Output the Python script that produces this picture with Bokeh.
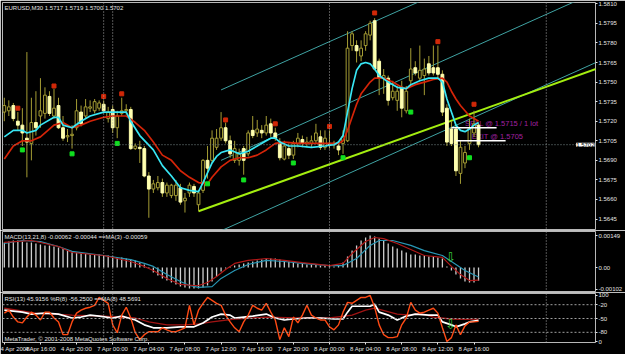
from bokeh.plotting import figure
from bokeh.layouts import column
from bokeh.models import Range1d, FixedTicker, Label, Span, ColumnDataSource, NumeralTickFormatter
from bokeh.core.properties import value
from bokeh.embed import file_html
from bokeh.resources import INLINE

# ---------------- data (EURUSD M30) ----------------
bars = list(range(106))
open_ = [1.5727, 1.5728, 1.5732, 1.5720, 1.5717, 1.5707, 1.5703, 1.5719, 1.5724, 1.5726,
         1.5739, 1.5724, 1.5732, 1.5715, 1.5708, 1.5709, 1.5715, 1.5727, 1.5724, 1.5730,
         1.5728, 1.5730, 1.5733, 1.5722, 1.5729, 1.5715, 1.5726, 1.5728, 1.5729, 1.5699,
         1.5700, 1.5699, 1.5678, 1.5668, 1.5669, 1.5673, 1.5665, 1.5663, 1.5663, 1.5669,
         1.5659, 1.5665, 1.5670, 1.5656, 1.5667, 1.5690, 1.5690, 1.5700, 1.5707, 1.5715,
         1.5705, 1.5690, 1.5690, 1.5699, 1.5695, 1.5713, 1.5711, 1.5713, 1.5711, 1.5718,
         1.5711, 1.5704, 1.5691, 1.5699, 1.5694, 1.5703, 1.5706, 1.5703, 1.5703, 1.5705,
         1.5708, 1.5700, 1.5703, 1.5703, 1.5701, 1.5703, 1.5705, 1.5778, 1.5778, 1.5770,
         1.5778, 1.5786, 1.5797, 1.5766, 1.5753, 1.5753, 1.5738, 1.5736, 1.5746, 1.5728,
         1.5751, 1.5761, 1.5753, 1.5755, 1.5764, 1.5761, 1.5761, 1.5756, 1.5730, 1.5714,
         1.5714, 1.5680, 1.5688, 1.5703, 1.5711, 1.5717]
high = [1.5738, 1.5736, 1.5734, 1.5727, 1.5730, 1.5773, 1.5738, 1.5743, 1.5753, 1.5746,
        1.5743, 1.5745, 1.5738, 1.5724, 1.5714, 1.5717, 1.5737, 1.5732, 1.5737, 1.5736,
        1.5737, 1.5736, 1.5736, 1.5731, 1.5732, 1.5728, 1.5738, 1.5733, 1.5731, 1.5703,
        1.5705, 1.5701, 1.5681, 1.5675, 1.5678, 1.5676, 1.5673, 1.5672, 1.5675, 1.5672,
        1.5665, 1.5673, 1.5672, 1.5667, 1.5691, 1.5701, 1.5713, 1.5714, 1.5727, 1.5719,
        1.5709, 1.5705, 1.5699, 1.5701, 1.5713, 1.5724, 1.5721, 1.5717, 1.5724, 1.5722,
        1.5715, 1.5707, 1.5705, 1.5703, 1.5705, 1.5711, 1.5709, 1.5708, 1.5709, 1.5718,
        1.5713, 1.5713, 1.5713, 1.5705, 1.5704, 1.5713, 1.5789, 1.5789, 1.5782, 1.5782,
        1.5789, 1.5797, 1.5799, 1.5768, 1.5760, 1.5755, 1.5751, 1.5747, 1.5751, 1.5747,
        1.5776, 1.5766, 1.5778, 1.5768, 1.5770, 1.5778, 1.5778, 1.5759, 1.5733, 1.5720,
        1.5717, 1.5705, 1.5701, 1.5722, 1.5728, 1.5719]
low = [1.5720, 1.5724, 1.5720, 1.5713, 1.5701, 1.5677, 1.5690, 1.5709, 1.5715, 1.5722,
       1.5724, 1.5722, 1.5714, 1.5705, 1.5704, 1.5699, 1.5713, 1.5716, 1.5722, 1.5727,
       1.5726, 1.5728, 1.5726, 1.5719, 1.5711, 1.5707, 1.5724, 1.5725, 1.5698, 1.5698,
       1.5688, 1.5677, 1.5646, 1.5665, 1.5667, 1.5662, 1.5662, 1.5661, 1.5659, 1.5656,
       1.5650, 1.5662, 1.5662, 1.5651, 1.5665, 1.5676, 1.5688, 1.5698, 1.5705, 1.5703,
       1.5692, 1.5688, 1.5686, 1.5679, 1.5693, 1.5707, 1.5708, 1.5707, 1.5709, 1.5708,
       1.5705, 1.5690, 1.5690, 1.5691, 1.5691, 1.5700, 1.5700, 1.5700, 1.5700, 1.5703,
       1.5698, 1.5698, 1.5699, 1.5699, 1.5694, 1.5695, 1.5704, 1.5774, 1.5765, 1.5766,
       1.5774, 1.5782, 1.5759, 1.5740, 1.5741, 1.5732, 1.5736, 1.5728, 1.5723, 1.5726,
       1.5747, 1.5755, 1.5751, 1.5740, 1.5755, 1.5755, 1.5753, 1.5724, 1.5701, 1.5701,
       1.5678, 1.5672, 1.5684, 1.5698, 1.5708, 1.5700]
close = [1.5732, 1.5731, 1.5722, 1.5717, 1.5711, 1.5704, 1.5719, 1.5715, 1.5728, 1.5740,
         1.5726, 1.5730, 1.5715, 1.5707, 1.5709, 1.5710, 1.5728, 1.5718, 1.5731, 1.5731,
         1.5735, 1.5734, 1.5728, 1.5727, 1.5715, 1.5724, 1.5728, 1.5729, 1.5699, 1.5701,
         1.5699, 1.5678, 1.5668, 1.5672, 1.5673, 1.5665, 1.5671, 1.5671, 1.5671, 1.5658,
         1.5661, 1.5671, 1.5665, 1.5665, 1.5690, 1.5684, 1.5707, 1.5707, 1.5715, 1.5705,
         1.5695, 1.5699, 1.5695, 1.5690, 1.5711, 1.5709, 1.5714, 1.5711, 1.5717, 1.5711,
         1.5707, 1.5692, 1.5701, 1.5694, 1.5703, 1.5707, 1.5703, 1.5704, 1.5705, 1.5711,
         1.5700, 1.5707, 1.5702, 1.5702, 1.5698, 1.5708, 1.5776, 1.5787, 1.5774, 1.5776,
         1.5787, 1.5795, 1.5760, 1.5753, 1.5755, 1.5736, 1.5743, 1.5743, 1.5730, 1.5743,
         1.5760, 1.5757, 1.5759, 1.5760, 1.5757, 1.5757, 1.5756, 1.5727, 1.5704, 1.5703,
         1.5682, 1.5700, 1.5696, 1.5715, 1.5718, 1.5702]

# fast (cyan) and slow (red) moving averages, read at these bars
ma_fast_x = [0, 2, 4, 5, 7, 8, 11, 12, 13, 15, 17, 19, 22, 25, 27, 28, 30, 33, 35, 37, 39, 41, 43, 44,
             46, 47, 48, 50, 52, 54, 56, 58, 59, 60, 61, 63, 65, 68, 71, 73, 74, 75, 76, 77, 78, 79,
             80, 81, 82, 83, 85, 87, 89, 90, 92, 94, 96, 97, 98, 99, 100, 101, 102, 103, 104, 105]
ma_fast = [1.5708, 1.5713, 1.5713, 1.5711, 1.5713, 1.5717, 1.5723, 1.5723, 1.5717, 1.5715, 1.5720,
           1.5724, 1.5727, 1.5727, 1.5727, 1.5720, 1.5709, 1.5698, 1.5686, 1.5678, 1.5669, 1.5667,
           1.5666, 1.5673, 1.5688, 1.5693, 1.5696, 1.5698, 1.5695, 1.5697, 1.5701, 1.5705, 1.5707,
           1.5707, 1.5704, 1.5701, 1.5701, 1.5700, 1.5701, 1.5702, 1.5704, 1.5709, 1.5727, 1.5745,
           1.5759, 1.5764, 1.5765, 1.5764, 1.5760, 1.5755, 1.5750, 1.5746, 1.5745, 1.5748, 1.5751,
           1.5753, 1.5753, 1.5750, 1.5737, 1.5727, 1.5717, 1.5713, 1.5712, 1.5714, 1.5717, 1.5719]
ma_slow_x = [0, 2, 4, 6, 8, 11, 13, 15, 17, 19, 22, 24, 27, 29, 31, 33, 35, 37, 39, 41, 43, 45, 46,
             48, 50, 52, 54, 56, 58, 60, 62, 65, 68, 71, 74, 75, 76, 77, 78, 79, 81, 82, 84, 86, 88,
             89, 91, 93, 95, 97, 98, 99, 100, 101, 102, 103, 104, 105]
ma_slow = [1.5691, 1.5701, 1.5705, 1.5705, 1.5708, 1.5717, 1.5719, 1.5715, 1.5717, 1.5720, 1.5723,
           1.5724, 1.5724, 1.5719, 1.5713, 1.5704, 1.5694, 1.5690, 1.5682, 1.5677, 1.5673, 1.5672,
           1.5677, 1.5685, 1.5690, 1.5692, 1.5692, 1.5694, 1.5698, 1.5703, 1.5704, 1.5703, 1.5703,
           1.5703, 1.5703, 1.5705, 1.5713, 1.5723, 1.5733, 1.5741, 1.5750, 1.5753, 1.5753, 1.5750,
           1.5746, 1.5745, 1.5748, 1.5750, 1.5752, 1.5753, 1.5750, 1.5743, 1.5737, 1.5732, 1.5728,
           1.5724, 1.5722, 1.5720]

frac_up_x = [3, 11, 22, 26, 49, 60, 72, 82, 96, 104]
frac_up_y = [1.5730, 1.5747, 1.5739, 1.5741, 1.5721, 1.5718, 1.5716, 1.5803, 1.5781, 1.5733]
frac_dn_x = [4, 15, 25, 45, 53, 64, 75, 90, 103]
frac_dn_y = [1.5698, 1.5695, 1.5703, 1.5672, 1.5675, 1.5688, 1.5692, 1.5727, 1.5692]

trend_x = [43, 131]
trend_y = [1.5651, 1.5760]
channel_x = [48, 131]
channel_upper = [1.5744, 1.5872]
channel_mid = [1.5690, 1.5819]
channel_lower = [1.5636, 1.5765]

separators = [22, 24, 72, 120]
bid = 1.5702
trade_start = [99, 100]
trade_end = [109, 111]
trade_price = [1.5715, 1.5705]
trade_text = ["SELL @ 1.5715 / 1 lot", "EXIT @ 1.5705"]
trade_text_x = [102, 103.5]

price_ticks = [1.5645, 1.5660, 1.5675, 1.5690, 1.5705, 1.5720, 1.5735, 1.5750, 1.5765, 1.5780, 1.5795, 1.5810]
time_ticks = [0, 8, 16, 24, 32, 40, 48, 56, 64, 72, 80, 88, 96, 104]
time_labels = ["4 Apr 2008", "4 Apr 16:00", "4 Apr 20:00", "7 Apr 00:00", "7 Apr 04:00", "7 Apr 08:00",
               "7 Apr 12:00", "7 Apr 16:00", "7 Apr 20:00", "8 Apr 00:00", "8 Apr 04:00", "8 Apr 08:00",
               "8 Apr 12:00", "8 Apr 16:00"]

# MACD(13,21,8)
macd_hist = [0.00117, 0.00121, 0.00126, 0.00126, 0.00121, 0.00117, 0.00117, 0.00112, 0.00107, 0.00103,
             0.00103, 0.00098, 0.00093, 0.00089, 0.00079, 0.00075, 0.00070, 0.00070, 0.00065, 0.00061,
             0.00061, 0.00061, 0.00056, 0.00056, 0.00051, 0.00047, 0.00047, 0.00042, 0.00037, 0.00033,
             0.00023, 0.00014, -0.00005, -0.00023, -0.00037, -0.00051, -0.00061, -0.00070, -0.00079, -0.00089,
             -0.00093, -0.00098, -0.00098, -0.00098, -0.00093, -0.00084, -0.00065, -0.00042, -0.00019, -0.00005,
             0.00005, 0.00009, 0.00014, 0.00019, 0.00023, 0.00028, 0.00033, 0.00037, 0.00042, 0.00042,
             0.00042, 0.00037, 0.00033, 0.00028, 0.00023, 0.00019, 0.00019, 0.00014, 0.00014, 0.00014,
             0.00009, 0.00009, 0.00009, 0.00005, 0.00009, 0.00023, 0.00051, 0.00079, 0.00103, 0.00126,
             0.00140, 0.00149, 0.00145, 0.00135, 0.00126, 0.00112, 0.00098, 0.00089, 0.00079, 0.00070,
             0.00061, 0.00061, 0.00056, 0.00056, 0.00051, 0.00051, 0.00047, 0.00042, 0.00005, -0.00014,
             -0.00033, -0.00051, -0.00065, -0.00070, -0.00070, -0.00062]
macd_sig_x = [0, 4, 8, 12, 15, 22, 28, 31, 33, 36, 39, 41, 43, 46, 48, 51, 54, 58, 62, 66, 72, 75, 78,
              81, 83, 86, 90, 93, 97, 100, 102, 105]
macd_sig = [0.00112, 0.00126, 0.00121, 0.00098, 0.00075, 0.00056, 0.00037, 0.00019, 0.00005, -0.00033,
            -0.00065, -0.00084, -0.00093, -0.00089, -0.00051, -0.00014, 0.00014, 0.00033, 0.00028, 0.00019,
            0.00009, 0.00009, 0.00042, 0.00103, 0.00126, 0.00126, 0.00103, 0.00079, 0.00056, 0.00014,
            -0.00014, -0.00044]
macd_ma_x = [0, 6, 12, 15, 22, 28, 31, 33, 36, 39, 42, 43, 45, 47, 49, 51, 54, 58, 62, 66, 72, 75, 77,
             80, 82, 84, 87, 90, 93, 97, 99, 101, 103, 105]
macd_ma = [0.00117, 0.00126, 0.00098, 0.00070, 0.00056, 0.00028, 0.00005, -0.00014, -0.00051, -0.00079,
           -0.00084, -0.00084, -0.00070, -0.00042, -0.00009, 0.00019, 0.00033, 0.00042, 0.00033, 0.00023,
           0.00009, 0.00019, 0.00065, 0.00121, 0.00140, 0.00135, 0.00112, 0.00084, 0.00056, 0.00047,
           0.00005, -0.00033, -0.00061, -0.00059]
macd_ticks = [-0.00102, 0.0, 0.00149]

# RSI(13), %R(8), MA(8)
wpr = [-38.3, -31.9, -46.8, -57.4, -59.6, -46.8, -36.2, -42.6, -53.2, -36.2,
       -36.2, -48.9, -57.4, -85.1, -85.1, -57.4, -38.3, -31.9, -27.7, -25.5,
       -21.3, -4.3, -10.6, -17.0, -63.8, -80.9, -42.6, -25.5, -48.9, -80.9,
       -95.7, -85.1, -78.7, -78.7, -78.7, -70.2, -74.5, -78.7, -78.7, -74.5,
       -70.2, -21.3, -63.8, -31.9, -17.0, -4.3, -10.6, -17.0, -21.3, -42.6,
       -57.4, -70.2, -78.7, -57.4, -42.6, -21.3, -27.7, -31.9, -17.0, -36.2,
       -53.2, -95.7, -70.2, -89.4, -46.8, -59.6, -42.6, -21.3, -42.6, -48.9,
       -53.2, -53.2, -68.1, -74.5, -63.8, -36.2, -14.9, -17.0, -10.6, -4.3,
       -4.3, 0.0, -25.5, -63.8, -85.1, -91.5, -91.5, -89.4, -63.8, -48.9,
       -14.9, -31.9, -38.3, -36.2, -31.9, -27.7, -38.3, -70.2, -100.0, -91.5,
       -63.8, -85.1, -66.0, -57.4, -57.4, -56.25]
rsi_x = [0, 4, 6, 9, 12, 15, 17, 19, 21, 24, 26, 29, 31, 33, 36, 39, 42, 44, 46, 48, 50, 51, 53, 55,
         58, 60, 62, 64, 67, 70, 73, 75, 76, 77, 79, 81, 82, 83, 85, 87, 89, 91, 94, 96, 97, 99,
         100, 102, 103, 105]
rsi = [68.1, 63.8, 59.6, 61.7, 59.6, 51.1, 53.2, 57.4, 55.3, 51.1, 55.3, 46.8, 36.2, 29.8, 29.8, 31.9,
       31.9, 40.4, 53.2, 59.6, 57.4, 51.1, 53.2, 55.3, 59.6, 51.1, 46.8, 48.9, 51.1, 51.1, 48.9, 48.9,
       63.8, 76.6, 76.6, 76.6, 80.9, 63.8, 57.4, 46.8, 55.3, 59.6, 57.4, 57.4, 42.6, 36.2, 31.9, 38.3,
       42.6, 45.9]
rsi_ma_x = [0, 7, 15, 22, 29, 32, 36, 40, 43, 46, 51, 55, 58, 65, 72, 77, 80, 82, 87, 90, 92, 95, 99,
            102, 105]
rsi_ma = [72.3, 61.7, 57.4, 55.3, 51.1, 42.6, 36.2, 36.2, 38.3, 42.6, 48.9, 51.1, 53.2, 51.1, 51.1,
          57.4, 68.1, 72.3, 59.6, 57.4, 61.7, 53.2, 48.9, 47.9, 48.6]
rsi_levels = [20, 50, 80]
rsi_ticks = [0, 20, 50, 80, 100]
rsi_tick_labels = ["0", "-80", "-50", "-20", "100"]
arrow_x = [98.8]
arrow_macd = [0.00047]
arrow_rsi = [36.0]

# ---------------- styling ----------------
FONT = "Liberation Sans"
TXT = "#E4E4E4"
FRAME = "#B8B8B8"
WICK = "#A49C34"
BRIGHT = "#FFFFB0"
RB = 27
XR = Range1d(-0.4, 130.9)


def panel(height, yr, top, bottom, xaxis=False):
    p = figure(width=625, height=height, x_range=XR, y_range=yr, output_backend="svg",
               toolbar_location=None, background_fill_color="black", border_fill_color="black",
               min_border_left=2, min_border_right=RB, min_border_top=top, min_border_bottom=bottom,
               y_axis_location="right", x_axis_location="below" if xaxis else None,
               outline_line_color=FRAME, outline_line_width=1)
    p.grid.visible = False
    ax = p.yaxis[0]
    ax.axis_line_color = None
    ax.major_tick_line_color = TXT
    ax.major_tick_out = 2
    ax.major_tick_in = 0
    ax.minor_tick_line_color = None
    ax.major_label_text_font = FONT
    ax.major_label_text_font_size = "6px"
    ax.major_label_text_color = TXT
    ax.major_label_standoff = 1
    for s in separators:
        p.add_layout(Span(location=s, dimension="height", line_color="#A8A8A8",
                          line_dash="1 2", line_width=1))
    return p


# ---------------- main price panel ----------------
p1 = panel(230, Range1d(1.5637, 1.5811), 2, 1)
p1.yaxis[0].ticker = FixedTicker(ticks=price_ticks)
p1.yaxis[0].formatter = NumeralTickFormatter(format="0.0000")
p1.add_layout(Span(location=bid, dimension="width", line_color="#7A8A8A", line_dash="1 2", line_width=1))

# regression channel and trend line
for ys in (channel_upper, channel_mid, channel_lower):
    p1.line(channel_x, ys, line_color="#3FA3A3", line_width=1)
p1.line(trend_x, trend_y, line_color="#A4EE10", line_width=2)

# trade text (drawn below candles)
p1.text(x=trade_text_x, y=trade_price, text=trade_text, text_color="#A020A0",
        text_font=value(FONT), text_font_size="7.5px", text_baseline="bottom", text_align="left")

bull = [c >= o for o, c in zip(open_, close)]
src = ColumnDataSource(dict(
    x=bars, h=high, l=low,
    top=[max(o, c) for o, c in zip(open_, close)],
    bottom=[min(o, c) for o, c in zip(open_, close)],
    fill=["black" if b else BRIGHT for b in bull],
    line=[WICK if b else BRIGHT for b in bull],
))
p1.segment(x0="x", y0="h", x1="x", y1="l", source=src, line_color=WICK, line_width=1)
p1.vbar(x="x", width=0.62, top="top", bottom="bottom", source=src,
        fill_color="fill", line_color="line", line_width=1)

p1.line(ma_slow_x, ma_slow, line_color="#D42408", line_width=1.7)
p1.line(ma_fast_x, ma_fast, line_color="#38E6F4", line_width=1.7)

p1.scatter(frac_up_x, frac_up_y, marker="square", size=4, color="#D02808")
p1.scatter(frac_dn_x, frac_dn_y, marker="square", size=4, color="#10E020")

p1.segment(x0=trade_start, y0=trade_price, x1=trade_end, y1=trade_price,
           line_color="white", line_width=1.5)

p1.add_layout(Label(x=XR.start, y=1.5811, x_offset=2, y_offset=-2, text_baseline="top",
                    text="EURUSD,M30  1.5717 1.5719 1.5700 1.5702", text_color=TXT,
                    text_font=FONT, text_font_size="6px"))
# current bid marker at the price scale edge
p1.add_layout(Label(x=XR.end, y=bid, x_offset=-1, text_align="right", text_baseline="middle",
                    text="1.5702", text_color="black", background_fill_color="white",
                    text_font=FONT, text_font_size="6px"))

# ---------------- MACD panel ----------------
p2 = panel(62, Range1d(-0.00112, 0.00168), 1, 1)
p2.yaxis[0].ticker = FixedTicker(ticks=macd_ticks)
p2.yaxis[0].major_label_overrides = {-0.00102: "-0.00102", 0.0: "0.00", 0.00149: "0.00149"}
p2.segment(x0=bars, y0=[0.0] * len(bars), x1=bars, y1=macd_hist, line_color="#CFCFCF", line_width=1.3)
p2.line(macd_sig_x, macd_sig, line_color="#2896B4", line_width=1.2)
p2.line(macd_ma_x, macd_ma, line_color="#B01818", line_width=1.2)
p2.text(x=arrow_x, y=arrow_macd, text=["\u21e9"], text_color="#3CC83C", text_font=value("DejaVu Sans"),
        text_font_size="13px", text_align="center", text_baseline="middle")
p2.add_layout(Label(x=XR.start, y=0.00168, x_offset=2, y_offset=-2, text_baseline="top",
                    text="MACD(13,21,8) -0.00062 -0.00044 ==MA(3) -0.00059", text_color=TXT,
                    text_font=FONT, text_font_size="6px"))

# ---------------- RSI / %R panel ----------------
p3 = panel(62, Range1d(-2.1, 104.3), 1, 0, xaxis=True)
p3.extra_y_ranges = {"wpr": Range1d(-102.1, 4.3)}
p3.yaxis[0].ticker = FixedTicker(ticks=rsi_ticks)
p3.yaxis[0].major_label_overrides = dict(zip(rsi_ticks, rsi_tick_labels))
for lv in rsi_levels:
    p3.add_layout(Span(location=lv, dimension="width", line_color="#A0A0A0", line_dash="2 2", line_width=1))
xa = p3.xaxis[0]
xa.ticker = FixedTicker(ticks=time_ticks)
xa.major_label_overrides = dict(zip(time_ticks, time_labels))
xa.major_label_text_align = "left"
xa.major_label_text_font = FONT
xa.major_label_text_font_size = "6px"
xa.major_label_text_color = TXT
xa.major_label_standoff = 1
xa.major_tick_out = 2
xa.major_tick_in = 0
xa.major_tick_line_color = TXT
xa.minor_tick_line_color = None
xa.axis_line_color = None

p3.line(rsi_ma_x, rsi_ma, line_color="#A01414", line_width=1.3)
p3.line(rsi_x, rsi, line_color="white", line_width=1.7)
p3.line(bars, wpr, y_range_name="wpr", line_color="#FF4A14", line_width=1.4)
p3.text(x=arrow_x, y=arrow_rsi, text=["\u21e9"], text_color="#3CC83C", text_font=value("DejaVu Sans"),
        text_font_size="13px", text_align="center", text_baseline="middle")
p3.add_layout(Label(x=XR.start, y=104.3, x_offset=2, y_offset=-2, text_baseline="top",
                    text="RSI(13) 45.9156  %R(8) -56.2500  ==MA(8) 48.5691", text_color=TXT,
                    text_font=FONT, text_font_size="6px"))
p3.add_layout(Label(x=XR.start, y=-2.1, x_offset=2, y_offset=1, text_baseline="bottom",
                    text="MetaTrader, \u00a9 2001-2008 MetaQuotes Software Corp.", text_color=TXT,
                    text_font=FONT, text_font_size="6px"))

layout = column(p1, p2, p3, spacing=0)
open("out.html", "w").write(file_html(layout, INLINE))
